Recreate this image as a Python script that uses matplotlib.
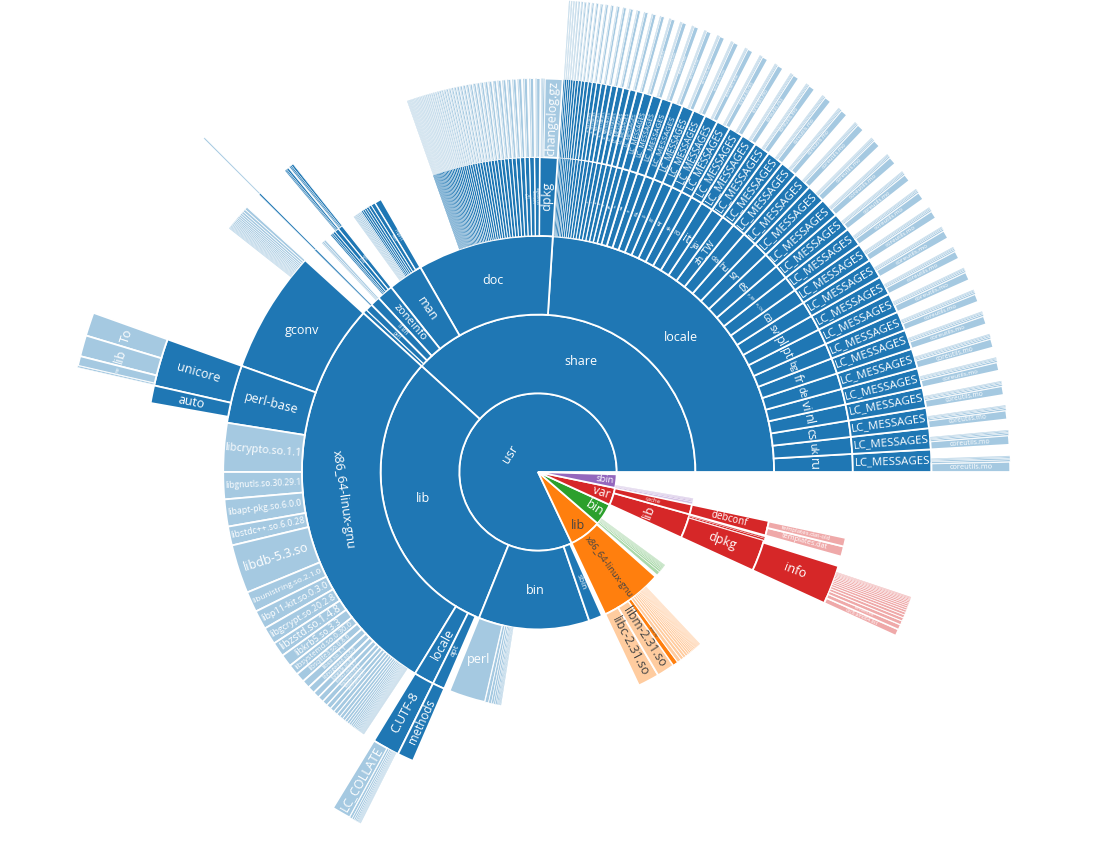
import numpy as np
import matplotlib.pyplot as plt
import matplotlib.colors as mcolors
from matplotlib.patches import Wedge
from matplotlib.textpath import TextPath
from matplotlib.font_manager import FontProperties

plt.rcParams['font.family'] = ['Open Sans', 'DejaVu Sans']

# ---------------- data (sizes are shares of the full circle, total 360) ----------------
root_total = 360.0
top_names = ['usr', 'lib', 'bin', 'var', 'sbin']
top_sizes = [295.3, 23.9, 16.2, 12.9, 10.0]

usr_names = ['share', 'lib', 'bin', 'sbin']
usr_sizes = [137.7, 110.3, 41.0, 5.0]

share_names = ['locale', 'doc', 'man', 'zoneinfo', 'i18n', 'perl', 'misc']
share_sizes = [86.4, 33.5, 8.6, 4.0, 2.4, 1.8, 0.9]

lang_names = ['ru', 'uk', 'cs', 'nl', 'vi', 'de', 'fr', 'bg', 'pt', 'pl', 'sv', 'ca', 'zh_CN', 'pt_BR',
              'es', 'sr', 'hu', 'da', 'zh_TW', 'ja', 'it', 'ro', 'sk', 'tr', 'ko', 'nb', 'gl', 'eo', 'fi', 'id',
              'ga', 'el', 'lt', 'et', 'sl', 'hr', 'eu', 'ms', 'af', 'be', 'ta', 'ka', 'kk', 'ia', 'ast',
              'lg', 'ky', 'oc', 'ar', 'he']
lang_sizes = [3.3, 3.1, 3.0, 3.0, 2.9, 2.95, 2.9, 2.85, 2.9, 2.8, 2.85, 2.75, 2.8, 2.7,
              2.85, 2.75, 2.7, 2.55, 2.45, 2.35, 2.25, 2.15, 2.05, 1.95, 1.85, 1.75, 1.65, 1.55, 1.45, 1.35,
              1.05, 1.0, 0.95, 0.9, 0.86, 0.8, 0.74, 0.68, 0.63, 0.58, 0.53, 0.49, 0.45, 0.41, 0.37,
              0.34, 0.31, 0.29, 0.27, 0.24]
mo_core = [1.25, 1.15, 1.1, 1.1, 1.05, 1.1, 1.05, 1.0, 1.05, 1.0, 1.05, 1.0, 1.0, 0.95,
           1.0, 0.95, 0.95, 0.9, 0.88, 0.85, 0.8, 0.78, 0.75, 0.72, 0.68, 0.65, 0.62, 0.58, 0.55, 0.5,
           0.42, 0.4, 0.38, 0.36, 0.34, 0.3, 0.28, 0.26, 0.24, 0.22, 0.2, 0.19, 0.17, 0.16, 0.14,
           0.13, 0.12, 0.11, 0.1, 0.09]
mo_rest_names = ['dpkg.mo', 'tar.mo', 'sed.mo', 'grep.mo']
mo_rest = [[0.24, 0.2, 0.15, 0.12], [0.22, 0.18, 0.15, 0.1], [0.22, 0.18, 0.14, 0.1], [0.2, 0.18, 0.14, 0.1],
           [0.22, 0.16, 0.13, 0.1], [0.2, 0.17, 0.14, 0.1], [0.21, 0.17, 0.12, 0.09], [0.2, 0.16, 0.12, 0.09],
           [0.2, 0.16, 0.13, 0.09], [0.19, 0.16, 0.12, 0.09], [0.2, 0.15, 0.12, 0.08], [0.19, 0.15, 0.12, 0.08],
           [0.19, 0.15, 0.11, 0.08], [0.18, 0.14, 0.11, 0.08],
           [0.18, 0.14, 0.11, 0.08], [0.17, 0.14, 0.1, 0.07], [0.17, 0.13, 0.1, 0.07], [0.16, 0.13, 0.1, 0.07],
           [0.15, 0.12, 0.09, 0.07], [0.15, 0.12, 0.09, 0.06], [0.14, 0.11, 0.09, 0.06], [0.14, 0.11, 0.08, 0.06],
           [0.13, 0.1, 0.08, 0.06], [0.12, 0.1, 0.08, 0.05], [0.12, 0.09, 0.07, 0.05], [0.11, 0.09, 0.07, 0.05],
           [0.1, 0.08, 0.06, 0.05], [0.1, 0.08, 0.06, 0.04], [0.09, 0.07, 0.06, 0.04], [0.09, 0.07, 0.05, 0.04],
           [0.08, 0.06], [0.08, 0.06], [0.07, 0.06], [0.07, 0.05], [0.07, 0.05], [0.06, 0.05], [0.06, 0.04],
           [0.05, 0.04], [0.05, 0.04], [0.05, 0.04], [0.04, 0.03], [0.04, 0.03], [0.04, 0.03], [0.04, 0.03],
           [0.03, 0.03], [0.03, 0.03], [0.03, 0.02], [0.03, 0.02], [0.03, 0.02], [0.02, 0.02]]

dpkg_doc_size = 3.3
dpkg_doc_names = ['changelog.gz', 'changelog.Debian.gz', 'copyright', 'README.api']
dpkg_doc_sizes = [2.6, 0.25, 0.15, 0.1]
doc_pkgs = ['libgnutls30', 'coreutils', 'apt', 'bash', 'tar', 'util-linux', 'perl-base', 'libc-bin',
            'findutils', 'libssl1.1', 'grep', 'sed', 'gzip', 'libsystemd0', 'debconf', 'diffutils',
            'libgcrypt20', 'e2fsprogs', 'mount', 'login', 'passwd', 'libdb5.3', 'libstdc++6', 'ncurses-base',
            'libzstd1', 'bsdutils', 'hostname', 'libp11-kit0', 'base-files', 'sysvinit-utils', 'libudev1',
            'adduser', 'init-system-helpers', 'libpam0g', 'liblz4-1', 'libtinfo6', 'libseccomp2', 'mawk',
            'libunistring2', 'libidn2-0', 'libtasn1-6', 'libhogweed6', 'libnettle8', 'libffi7', 'zlib1g',
            'libacl1', 'libattr1', 'libgmp10']
doc_sizes = [0.95, 0.92, 0.84, 0.82, 0.76, 0.74, 0.7, 0.69, 0.66, 0.62, 0.61, 0.57, 0.55, 0.54, 0.51, 0.5,
             0.47, 0.45, 0.44, 0.42, 0.4, 0.39, 0.37, 0.36, 0.34, 0.33, 0.33, 0.31, 0.3, 0.29, 0.28, 0.27,
             0.26, 0.25, 0.24, 0.23, 0.22, 0.21, 0.2, 0.2, 0.19, 0.18, 0.17, 0.16, 0.15, 0.14, 0.13, 0.12]
doc_changelog = [0.5, 0.48, 0.45, 0.44, 0.4, 0.4, 0.38, 0.37, 0.35, 0.33, 0.33, 0.3, 0.3, 0.29, 0.27, 0.27,
                 0.25, 0.24, 0.24, 0.22, 0.21, 0.21, 0.2, 0.19, 0.18, 0.18, 0.17, 0.16, 0.16, 0.15, 0.15, 0.14,
                 0.14, 0.13, 0.13, 0.12, 0.12, 0.11, 0.1, 0.1, 0.1, 0.09, 0.09, 0.08, 0.08, 0.07, 0.07, 0.06]
doc_copyright = [0.18, 0.17, 0.16, 0.15, 0.14, 0.14, 0.13, 0.13, 0.12, 0.12, 0.11, 0.11, 0.1, 0.1, 0.1, 0.09,
                 0.09, 0.09, 0.08, 0.08, 0.08, 0.07, 0.07, 0.07, 0.07, 0.06, 0.06, 0.06, 0.06, 0.05, 0.05, 0.05,
                 0.05, 0.05, 0.04, 0.04, 0.04, 0.04, 0.04, 0.04, 0.03, 0.03, 0.03, 0.03, 0.03, 0.03, 0.02, 0.02]

man_dir_names = ['man1', 'man8', 'man5', 'de', 'fr', 'ja', 'man7']
man_dir_sizes = [1.35, 0.8, 0.55, 0.45, 0.4, 0.38, 0.32]
man_file_names = ['pl', 'ru', 'sv', 'es', 'it', 'pt', 'nl', 'ko']
man_file_sizes = [0.3, 0.27, 0.25, 0.22, 0.2, 0.18, 0.15, 0.12]

zone_names = ['right', 'posix', 'America', 'Europe', 'Asia']
zone_sizes = [0.9, 0.8, 0.45, 0.3, 0.25]
zone_sub_names = ['America', 'Europe', 'Asia']
zone_right_sizes = [0.32, 0.2, 0.15]
zone_posix_sizes = [0.3, 0.18, 0.14]
i18n_names = ['charmaps', 'locales', 'SUPPORTED']
i18n_sizes = [0.4, 0.3, 0.15]

usrlib_names = ['x86_64-linux-gnu', 'locale', 'apt']
usrlib_sizes = [100.9, 5.0, 3.0]
x86_dir_names = ['gconv', 'perl-base']
x86_dir_sizes = [22.6, 10.7]
gconv_names = ['libJIS.so', 'libGB.so', 'libCNS.so', 'BIG5HKSCS.so', 'IBM1364.so', 'EUC-TW.so', 'libKSC.so',
               'UTF-7.so', 'IBM1390.so', 'IBM1399.so', 'IBM1388.so', 'BIG5.so', 'EUC-JISX0213.so', 'IBM930.so',
               'IBM939.so', 'gconv-modules.cache', 'ISO-2022-JP.so', 'IBM933.so']
gconv_sizes = [0.45, 0.4, 0.35, 0.3, 0.28, 0.26, 0.24, 0.22, 0.2, 0.19, 0.18, 0.17, 0.16, 0.15, 0.14, 0.13,
               0.12, 0.11]
perlbase_names = ['unicore', 'auto']
perlbase_sizes = [7.0, 2.6]
unicore_names = ['To', 'lib', 're', 'Name.pl']
unicore_sizes = [2.9, 2.6, 1.2, 0.2]
x86_file_names = ['libcrypto.so.1.1', 'libgnutls.so.30.29.1', 'libapt-pkg.so.6.0.0', 'libstdc++.so.6.0.28',
                  'libdb-5.3.so', 'libunistring.so.2.1.0', 'libp11-kit.so.0.3.0', 'libgcrypt.so.20.2.8',
                  'libzstd.so.1.4.8', 'libkrb5.so.3.3', 'libsystemd.so.0.30.0', 'libsqlite3.so.0.8.6',
                  'libssl.so.1.1', 'libhogweed.so.6.0', 'libnettle.so.8.0', 'libidn2.so.0.3.7',
                  'libgmp.so.10.4.1', 'libtasn1.so.6.6.0', 'libk5crypto.so.3.1', 'libmount.so.1.1.0',
                  'libblkid.so.1.1.0', 'libncursesw.so.6.2', 'libpcre2-8.so.0.10.1', 'libgssapi_krb5.so.2.2',
                  'libsmartcols.so.1.1.0', 'liblz4.so.1.9.3', 'libseccomp.so.2.5.1', 'libtinfo.so.6.2',
                  'libpcre.so.3.13.3', 'liblzma.so.5.2.5', 'libselinux.so.1', 'libudev.so.1.7.0',
                  'libffi.so.7.1.0', 'libz.so.1.2.11', 'libbz2.so.1.0.4', 'libacl.so.1.1.2253',
                  'libattr.so.1.1.2448', 'libcap-ng.so.0.0.0', 'libgpg-error.so.0.29.0', 'libsemanage.so.1',
                  'libsepol.so.1', 'libkeyutils.so.1.9', 'libcom_err.so.2.1', 'libkrb5support.so.0.1',
                  'libdebconfclient.so.0.0.0', 'libxxhash.so.0.8.0', 'libcrypt.so.1.1.0', 'libpam.so.0.85.1']
x86_file_sizes = [9.0, 5.0, 5.0, 3.5, 9.0, 3.8, 3.5, 3.2, 2.7, 2.3, 2.0, 1.7, 1.5, 1.35, 1.2, 1.1, 1.0, 0.9,
                  0.82, 0.75, 0.68, 0.62, 0.56, 0.5, 0.45, 0.4, 0.36, 0.32, 0.28, 0.25, 0.22, 0.2, 0.18, 0.16,
                  0.14, 0.12, 0.1, 0.09, 0.08, 0.07, 0.06, 0.05, 0.05, 0.04, 0.04, 0.03, 0.03, 0.03]
cutf_names = ['LC_COLLATE', 'LC_CTYPE', 'LC_TIME', 'LC_NUMERIC', 'LC_MONETARY', 'LC_PAPER', 'LC_NAME',
              'LC_ADDRESS', 'LC_TELEPHONE', 'LC_MEASUREMENT', 'LC_IDENTIFICATION']
cutf_sizes = [2.8, 0.4, 0.3, 0.25, 0.2, 0.16, 0.13, 0.11, 0.1, 0.09, 0.08]
usrbin_names = ['perl', 'dpkg', 'apt-get', 'bash', 'systemctl', 'cp', 'ls', 'tar', 'mv', 'grep', 'sed']
usrbin_sizes = [9.0, 0.9, 0.7, 0.55, 0.45, 0.38, 0.3, 0.25, 0.2, 0.15, 0.12]

glibc_names = ['libc-2.31.so', 'libm-2.31.so']
glibc_sizes = [5.3, 4.4]
security_size = 1.3
libx_names = ['libresolv-2.31.so', 'libnsl-2.31.so', 'libpthread-2.31.so', 'libnss_files-2.31.so',
              'libanl-2.31.so', 'libBrokenLocale-2.31.so', 'libcidn-2.31.so', 'libdl-2.31.so', 'librt-2.31.so',
              'libutil-2.31.so', 'libnss_dns-2.31.so', 'libnss_compat-2.31.so', 'libmemusage.so',
              'libpcprofile.so', 'libSegFault.so', 'ld-2.31.so', 'libthread_db-1.0.so', 'libnss_hesiod-2.31.so',
              'libcrypt.so.1', 'libpamc.so.0']
libx_sizes = [1.0, 0.8, 0.7, 0.6, 0.5, 0.45, 0.4, 0.35, 0.3, 0.28, 0.25, 0.22, 0.2, 0.18, 0.16, 0.15, 0.14,
              0.12, 0.11, 0.1]
orange_x86_size = 23.0

bin_names = ['bash', 'tar', 'ls', 'cp', 'mv', 'dd', 'ln', 'rm', 'mkdir', 'cat']
bin_sizes = [1.4, 0.8, 0.55, 0.45, 0.35, 0.3, 0.25, 0.2, 0.15, 0.12]

var_names = ['lib', 'cache']
var_sizes = [9.0, 3.6]
varlib_names = ['dpkg', 'apt', 'systemd']
varlib_sizes = [7.8, 0.5, 0.3]
info_size = 7.2
info_names = ['libc6:amd64.list', 'coreutils.list', 'perl-base.list', 'libc-bin.list', 'util-linux.list',
              'bash.list', 'dpkg.list', 'apt.list', 'tar.list', 'findutils.list', 'libgnutls30:amd64.list',
              'libssl1.1:amd64.list', 'e2fsprogs.list', 'debconf.list', 'login.list', 'passwd.list']
info_sizes = [1.0, 0.75, 0.6, 0.5, 0.45, 0.4, 0.35, 0.32, 0.3, 0.28, 0.25, 0.22, 0.2, 0.18, 0.15, 0.12]
debconf_names = ['templates.dat', 'templates.dat-old']
debconf_sizes = [1.9, 1.6]

sbin_names = ['ldconfig', 'e2fsck', 'mke2fs', 'fsck', 'agetty']
sbin_sizes = [0.8, 0.5, 0.35, 0.25, 0.15]


# ---------------- build the tree ----------------
def leaf(name, size):
    return {'name': name, 'size': size, 'kids': None}


def folder(name, size, kids):
    return {'name': name, 'size': size, 'kids': kids}


def leaves(names, sizes):
    return [leaf(n, s) for n, s in zip(names, sizes)]


langs = []
for i, lang in enumerate(lang_names):
    files = [leaf('coreutils.mo', mo_core[i])] + leaves(mo_rest_names, mo_rest[i])
    langs.append(folder(lang, lang_sizes[i], [folder('LC_MESSAGES', lang_sizes[i], files)]))

doc_kids = [folder('dpkg', dpkg_doc_size, leaves(dpkg_doc_names, dpkg_doc_sizes))]
for i, pkg in enumerate(doc_pkgs):
    doc_kids.append(folder(pkg, doc_sizes[i], leaves(['changelog.Debian.gz', 'copyright'],
                                                     [doc_changelog[i], doc_copyright[i]])))

man_kids = [folder(n, s, []) for n, s in zip(man_dir_names, man_dir_sizes)] + leaves(man_file_names, man_file_sizes)

zone_kids = [folder(zone_names[0], zone_sizes[0], [folder(n, s, []) for n, s in zip(zone_sub_names, zone_right_sizes)]),
             folder(zone_names[1], zone_sizes[1], [folder(n, s, []) for n, s in zip(zone_sub_names, zone_posix_sizes)])]
zone_kids += [folder(n, s, []) for n, s in zip(zone_names[2:], zone_sizes[2:])]

share_kids = [folder(share_names[0], share_sizes[0], langs),
              folder(share_names[1], share_sizes[1], doc_kids),
              folder(share_names[2], share_sizes[2], man_kids),
              folder(share_names[3], share_sizes[3], zone_kids),
              folder(share_names[4], share_sizes[4], leaves(i18n_names, i18n_sizes)),
              folder(share_names[5], share_sizes[5], [folder('5.32', 0.3, [folder('unicore', 0.25, [leaf('Name.pl', 0.18)])])]),
              folder(share_names[6], share_sizes[6], [])]

perlbase = folder(x86_dir_names[1], x86_dir_sizes[1],
                  [folder(perlbase_names[0], perlbase_sizes[0], leaves(unicore_names, unicore_sizes)),
                   folder(perlbase_names[1], perlbase_sizes[1], [])])
x86_kids = [folder(x86_dir_names[0], x86_dir_sizes[0], leaves(gconv_names, gconv_sizes)), perlbase]
x86_kids += leaves(x86_file_names, x86_file_sizes)

usrlib_kids = [folder(usrlib_names[0], usrlib_sizes[0], x86_kids),
               folder(usrlib_names[1], usrlib_sizes[1], [folder('C.UTF-8', 5.0, leaves(cutf_names, cutf_sizes))]),
               folder(usrlib_names[2], usrlib_sizes[2], [folder('methods', 3.0, [])])]

usr_kids = [folder(usr_names[0], usr_sizes[0], share_kids),
            folder(usr_names[1], usr_sizes[1], usrlib_kids),
            folder(usr_names[2], usr_sizes[2], leaves(usrbin_names, usrbin_sizes)),
            folder(usr_names[3], usr_sizes[3], [])]

orange_x86 = leaves(glibc_names, glibc_sizes) + [folder('security', security_size, [])] + leaves(libx_names, libx_sizes)

var_kids = [folder(var_names[0], var_sizes[0],
                   [folder(varlib_names[0], varlib_sizes[0], [folder('info', info_size, leaves(info_names, info_sizes))]),
                    folder(varlib_names[1], varlib_sizes[1], []),
                    folder(varlib_names[2], varlib_sizes[2], [])]),
            folder(var_names[1], var_sizes[1], [folder('debconf', 3.6, leaves(debconf_names, debconf_sizes))])]

tops = [folder(top_names[0], top_sizes[0], usr_kids),
        folder(top_names[1], top_sizes[1], [folder('x86_64-linux-gnu', orange_x86_size, orange_x86)]),
        folder(top_names[2], top_sizes[2], leaves(bin_names, bin_sizes)),
        folder(top_names[3], top_sizes[3], var_kids),
        folder(top_names[4], top_sizes[4], leaves(sbin_names, sbin_sizes))]

# ---------------- style ----------------
W, H, DPI = 1103, 841, 100
CX, CY = 538, 472          # centre of the sunburst, pixels from top-left
RING = 78.7                # ring thickness in pixels
MAXPX = 12.5
FP = FontProperties(family='Open Sans')

base = {'usr': '#1f77b4', 'lib': '#ff7f0e', 'bin': '#2ca02c', 'var': '#d62728', 'sbin': '#9467bd'}
ink = {'lib': '#444444'}

label_mode = {'usr/share': 'h', 'usr/share/locale': 'h', 'usr/share/doc': 'h', 'usr/lib': 'h',
              'usr/bin': 'h', 'usr/bin/perl': 'h', 'usr/lib/x86_64-linux-gnu/gconv': 'h', 'lib': 'h',
              'usr/share/man': 'r', 'var/lib': 't', 'var/lib/dpkg/info': 'r',
              'usr/lib/x86_64-linux-gnu/perl-base/unicore/lib': 't',
              'usr/lib/x86_64-linux-gnu/perl-base/unicore/To': 't',
              'usr/lib/x86_64-linux-gnu/perl-base/unicore/re': 't'}
for lang in lang_names:
    label_mode['usr/share/locale/' + lang] = 't'


def light(c, a=0.4):
    r, g, b = mcolors.to_rgb(c)
    return (1 - a + a * r, 1 - a + a * g, 1 - a + a * b)


_wcache = {}


def unit_width(s):
    if s not in _wcache:
        _wcache[s] = TextPath((0, 0), s, size=10, prop=FP).get_extents().width / 10
    return _wcache[s]


fig = plt.figure(figsize=(W / DPI, H / DPI), dpi=DPI)
ax = fig.add_axes([0, 0, 1, 1])
ax.set_xlim(-CX, W - CX)
ax.set_ylim(-(H - CY), CY)
ax.axis('off')


def label(name, depth, a0, a1, color, path):
    span = np.radians(a1 - a0)
    mid = (a0 + a1) / 2
    uw = unit_width(name)
    if depth == 0:
        rm = 0.42 * RING if a1 - a0 > 180 else 0.85 * RING
        length = 0.45 * RING
    else:
        rm = (depth + 0.5) * RING
        length = RING - 5
    arc = rm * span
    fs_r = min(MAXPX, 0.8 * arc, length / uw)
    fs_t = min(MAXPX, (arc - 4) / uw, 0.8 * RING)
    auto = 'r' if fs_r > fs_t else 't'
    mode = label_mode.get(path, auto)
    fs = {'r': fs_r, 't': fs_t, 'h': MAXPX}[mode]
    if fs < 3:
        mode = auto
        fs = max(fs_r, fs_t)
    if fs < 3:
        return
    m = mid % 360
    if mode == 'r':
        rot = m if (m <= 90 or m >= 270) else m - 180
    elif mode == 't':
        rot = m - 90 if m < 180 else m - 270
    else:
        rot = 0
    ax.text(rm * np.cos(np.radians(mid)), rm * np.sin(np.radians(mid)), name,
            rotation=rot, rotation_mode='anchor', ha='center', va='center',
            fontsize=fs * 72 / DPI, color=color, zorder=3)


def draw(node, depth, a0, top, path):
    a1 = a0 + node['size'] * 360 / root_total
    is_dir = node['kids'] is not None
    col = base[top] if is_dir else light(base[top])
    r_out = (depth + 1) * RING
    r_in = depth * RING if depth else RING
    thin = r_in * np.radians(a1 - a0)
    lw = min(1.3, 0.25 * thin)
    ax.add_patch(Wedge((0, 0), r_out, a0, a1, width=None if depth == 0 else RING,
                       facecolor=col, edgecolor='white', linewidth=lw, zorder=1))
    label(node['name'], depth, a0, a1, ink.get(top, 'white'), path)
    if is_dir:
        start = a0
        for k in node['kids']:
            draw(k, depth + 1, start, top, path + '/' + k['name'])
            start += k['size'] * 360 / root_total


start = 0.0
for t in tops:
    draw(t, 0, start, t['name'], t['name'])
    start += t['size'] * 360 / root_total

fig.savefig('out.png', dpi=DPI, facecolor='white')
